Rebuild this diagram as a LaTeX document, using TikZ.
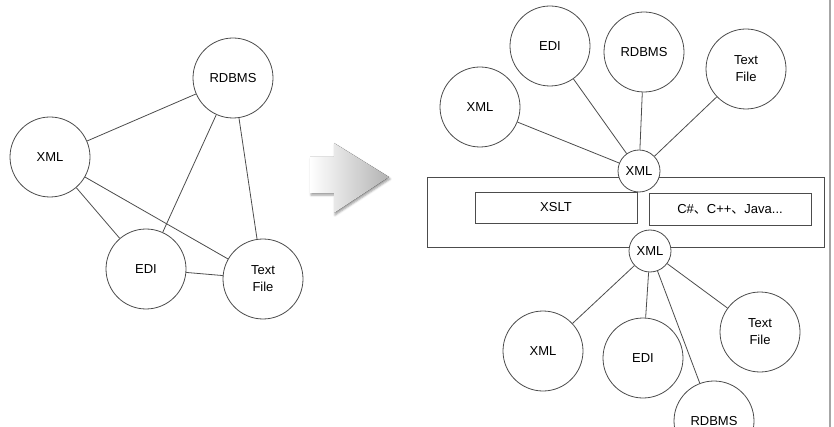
\documentclass[tikz,border=0pt]{standalone}
\usepackage{fontspec}
\setmainfont{Liberation Sans}
\newfontfamily\cjk{Noto Sans CJK SC}
\usetikzlibrary{positioning, shadows.blur}

\begin{document}
\begin{tikzpicture}[
  x=1pt, y=-1pt,
  ent/.style={circle, draw=black!70, line width=0.8pt, fill=white, minimum size=80pt, inner sep=0pt, font=\fontsize{13}{17}\selectfont, align=center},
  port/.style={ent, minimum size=42pt},
  frame/.style={rectangle, draw=black!70, line width=0.8pt, fill=white, inner sep=0pt, font=\fontsize{13}{17}\selectfont},
  link/.style={draw=black!70, line width=0.8pt},
]
  \useasboundingbox (0,0) rectangle (834,427);

  % before: every format talks to every other
  \node[ent] (lrdbms) at (233,78) {RDBMS};
  \node[ent] (lxml) at (50,157) {XML};
  \node[ent] (ledi) at (146,269) {EDI};
  \node[ent] (ltext) at (263,279) {Text\\File};

  \draw[link] (lxml) -- (lrdbms);
  \draw[link] (lxml) -- (ledi);
  \draw[link] (lxml) -- (ltext);
  \draw[link] (lrdbms) -- (ledi);
  \draw[link] (lrdbms) -- (ltext);
  \draw[link] (ledi) -- (ltext);

  % big arrow
  \fill[left color=white, right color=gray!60, blur shadow={shadow xshift=1pt, shadow yshift=-2pt}]
    (310,157) -- (334,157) -- (334,143) -- (389,177) -- (334,213) -- (334,193) -- (310,193) -- cycle;

  % after: everything goes through XML
  \node[frame, minimum width=397pt, minimum height=70pt] (engine) at (625.5,212) {};
  \node[frame, minimum width=162pt, minimum height=31pt] (xslt) at (556,207.5) {XSLT};
  \node[frame, minimum width=162pt, minimum height=32pt] (lang) at (730,209) {C\#{\cjk 、}C++{\cjk 、}Java...};

  \node[port] (inxml) at (639,171) {XML};
  \node[port] (outxml) at (650,251) {XML};

  \node[ent] (axml) at (480,107) {XML};
  \node[ent] (aedi) at (550,46) {EDI};
  \node[ent] (ardbms) at (644,52) {RDBMS};
  \node[ent] (atext) at (746,69) {Text\\File};

  \node[ent] (bxml) at (543,351) {XML};
  \node[ent] (bedi) at (643,358) {EDI};
  \node[ent] (btext) at (760,332) {Text\\File};
  \node[ent] (brdbms) at (714,421) {RDBMS};

  \draw[link] (axml) -- (inxml);
  \draw[link] (aedi) -- (inxml);
  \draw[link] (ardbms) -- (inxml);
  \draw[link] (atext) -- (inxml);

  \draw[link] (outxml) -- (bxml);
  \draw[link] (outxml) -- (bedi);
  \draw[link] (outxml) -- (brdbms);
  \draw[link] (outxml) -- (btext);

  % right edge shadow
  \draw[gray!70, line width=2.5pt] (830,0) -- (830,427);
\end{tikzpicture}
\end{document}
